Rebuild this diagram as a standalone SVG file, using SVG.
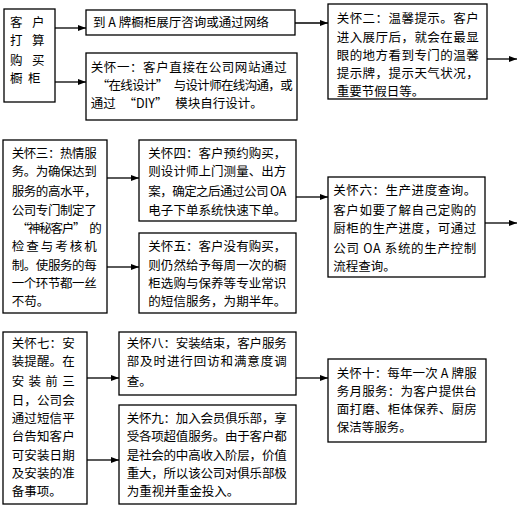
<svg xmlns="http://www.w3.org/2000/svg" width="519" height="509" viewBox="0 0 519 509">
<style>
.box{fill:#fff;stroke:#000;stroke-width:1.3}
.t{font-family:"Noto Sans CJK SC","Liberation Sans",sans-serif;font-size:12.5px;fill:#000}
.c{stroke:#000;stroke-width:1.3;fill:none;marker-end:url(#ah)}
</style>
<defs>
<marker id="ah" markerUnits="userSpaceOnUse" markerWidth="9" markerHeight="7" refX="8" refY="3.5" orient="auto">
<path d="M0,0.5 L8,3.5 L0,6.5 z" fill="#000"/>
</marker>
</defs>
<rect width="519" height="509" fill="#fff"/>
<g id="connectors">
<line class="c" x1="55" y1="28" x2="86" y2="28"/>
<line class="c" x1="55" y1="82" x2="86" y2="82"/>
<line class="c" x1="295" y1="23" x2="328" y2="23"/>
<line class="c" x1="487" y1="59" x2="517" y2="59"/>
<line class="c" x1="107" y1="178" x2="139" y2="178"/>
<line class="c" x1="107" y1="267" x2="139" y2="267"/>
<line class="c" x1="296" y1="197" x2="328" y2="197"/>
<line class="c" x1="485" y1="223" x2="517" y2="223"/>
<line class="c" x1="87" y1="378" x2="119" y2="378"/>
<line class="c" x1="87" y1="460" x2="119" y2="460"/>
<line class="c" x1="296" y1="378" x2="328" y2="378"/>
</g>
<g id="n0">
<rect class="box" x="4" y="9" width="51" height="93"/>
<text class="t"><tspan x="10" y="26.5">客</tspan><tspan x="32" y="26.5">户</tspan></text>
<text class="t"><tspan x="10" y="45">打</tspan><tspan x="32" y="45">算</tspan></text>
<text class="t"><tspan x="10" y="64.5">购</tspan><tspan x="32" y="64.5">买</tspan></text>
<text class="t"><tspan x="10" y="83">橱</tspan><tspan x="28" y="83">柜</tspan></text>
</g>
<g id="n1">
<rect class="box" x="86" y="10" width="209" height="25"/>
<text class="t" x="93" y="26.5">到 A 牌橱柜展厅咨询或通过网络</text>
</g>
<g id="n2">
<rect class="box" x="86" y="53" width="211" height="67"/>
<text class="t" x="90.7" y="71.5" textLength="196">关怀一：客户直接在公司网站通过</text>
<text class="t" x="90.7" y="90" textLength="196"><tspan dx="6">“</tspan>在线设计”<tspan dx="6">与</tspan>设计师在线沟通，或</text>
<text class="t" x="90.7" y="108">通过 <tspan dx="5">“</tspan>DIY” <tspan dx="5">模</tspan>块自行设计。</text>
</g>
<g id="n3">
<rect class="box" x="328" y="4" width="159" height="95"/>
<text class="t" x="336.7" y="23" textLength="142">关怀二：温馨提示。客户</text>
<text class="t" x="336.7" y="41.5" textLength="142">进入展厅后，就会在最显</text>
<text class="t" x="336.7" y="59.7" textLength="142">眼的地方看到专门的温馨</text>
<text class="t" x="336.7" y="78" textLength="142">提示牌，提示天气状况，</text>
<text class="t" x="336.7" y="95.5">重要节假日等。</text>
</g>
<g id="n4">
<rect class="box" x="3" y="140" width="104" height="173"/>
<text class="t" x="11.7" y="158" textLength="85">关怀三：热情服</text>
<text class="t" x="11.7" y="176.4" textLength="85">务。为确保达到</text>
<text class="t" x="11.7" y="196.4" textLength="85">服务的高水平，</text>
<text class="t" x="11.7" y="214.7" textLength="85">公司专门制定了</text>
<text class="t" x="11.7" y="233" textLength="85"><tspan dx="5">“</tspan>神秘客户”<tspan dx="5">的</tspan></text>
<text class="t" x="11.7" y="251.4" textLength="85">检 查 与 考 核 机</text>
<text class="t" x="11.7" y="269.7" textLength="85">制。使服务的每</text>
<text class="t" x="11.7" y="288" textLength="85">一个环节都一丝</text>
<text class="t" x="11.7" y="306.4">不苟。</text>
</g>
<g id="n5">
<rect class="box" x="139" y="140" width="157" height="81"/>
<text class="t" x="148.3" y="158" textLength="138">关怀四：客户预约购买，</text>
<text class="t" x="148.3" y="176.4" textLength="138">则设计师上门测量、出方</text>
<text class="t" x="148.3" y="196.4" textLength="138">案，确定之后通过公司 OA</text>
<text class="t" x="148.3" y="214.7" textLength="138">电子下单系统快速下单。</text>
</g>
<g id="n6">
<rect class="box" x="139" y="233" width="157" height="80"/>
<text class="t" x="148.3" y="251.4" textLength="138">关怀五：客户没有购买，</text>
<text class="t" x="148.3" y="269.7" textLength="138">则仍然给予每周一次的橱</text>
<text class="t" x="148.3" y="288" textLength="138">柜选购与保养等专业常识</text>
<text class="t" x="148.3" y="306.4" textLength="138">的短信服务，为期半年。</text>
</g>
<g id="n7">
<rect class="box" x="328" y="177" width="157" height="100"/>
<text class="t" x="333.3" y="194.7" textLength="143">关怀六：生产进度查询。</text>
<text class="t" x="333.3" y="214.7" textLength="143">客户如要了解自己定购的</text>
<text class="t" x="333.3" y="233" textLength="143">厨柜的生产进度，可通过</text>
<text class="t" x="333.3" y="253" textLength="143">公司 OA 系统的生产控制</text>
<text class="t" x="333.3" y="271.4">流程查询。</text>
</g>
<g id="n8">
<rect class="box" x="3" y="332" width="84" height="172"/>
<text class="t" x="11.7" y="348" textLength="63">关怀七：安</text>
<text class="t" x="11.7" y="366.4" textLength="63">装提醒。在</text>
<text class="t" x="11.7" y="386.4" textLength="63">安 装 前 三</text>
<text class="t" x="11.7" y="404.7" textLength="63">日，公司会</text>
<text class="t" x="11.7" y="423" textLength="63">通过短信平</text>
<text class="t" x="11.7" y="441.4" textLength="63">台告知客户</text>
<text class="t" x="11.7" y="459.7" textLength="63">可安装日期</text>
<text class="t" x="11.7" y="478" textLength="63">及安装的准</text>
<text class="t" x="11.7" y="496.4">备事项。</text>
</g>
<g id="n9">
<rect class="box" x="119" y="332" width="177" height="63"/>
<text class="t" x="126.7" y="348" textLength="160">关怀八：安装结束，客户服务</text>
<text class="t" x="126.7" y="366.4" textLength="160">部及时进行回访和满意度调</text>
<text class="t" x="126.7" y="386.4">查。</text>
</g>
<g id="n10">
<rect class="box" x="119" y="405" width="177" height="99"/>
<text class="t" x="126.7" y="423" textLength="160">关怀九：加入会员俱乐部，享</text>
<text class="t" x="126.7" y="441.4" textLength="160">受各项超值服务。由于客户都</text>
<text class="t" x="126.7" y="459.7" textLength="160">是社会的中高收入阶层，价值</text>
<text class="t" x="126.7" y="478" textLength="160">重大，所以该公司对俱乐部极</text>
<text class="t" x="126.7" y="496.4">为重视并重金投入。</text>
</g>
<g id="n11">
<rect class="box" x="328" y="359" width="158" height="83"/>
<text class="t" x="336.7" y="377.5" textLength="140">关怀十：每年一次 A 牌服</text>
<text class="t" x="336.7" y="395.5" textLength="140">务月服务：为客户提供台</text>
<text class="t" x="336.7" y="413.5" textLength="140">面打磨、柜体保养、厨房</text>
<text class="t" x="336.7" y="431.5">保洁等服务。</text>
</g>
</svg>
